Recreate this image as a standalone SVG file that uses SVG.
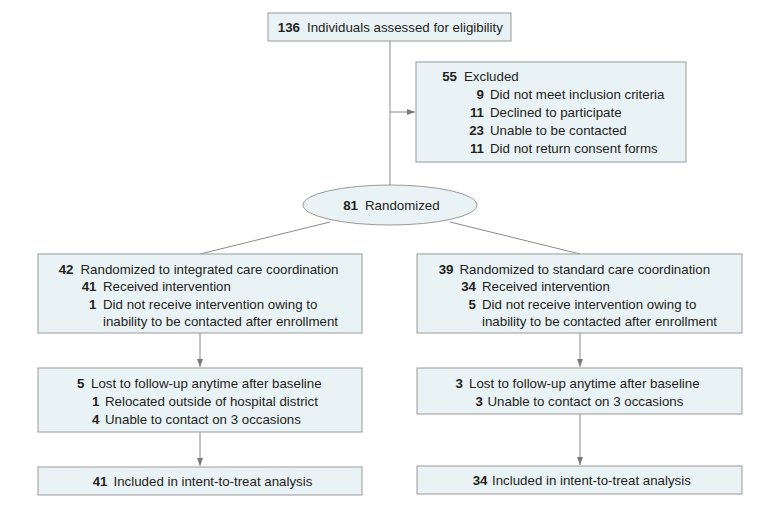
<svg xmlns="http://www.w3.org/2000/svg" width="780" height="508" viewBox="0 0 780 508">
<defs>
<style>
.box{fill:#e9f2f5;stroke:#9a9a9a;stroke-width:1}
text{font-family:"Liberation Sans",Arial,sans-serif;font-size:13.3px;fill:#231f20}
.n{font-weight:bold;text-anchor:end}
.c{text-anchor:middle}
.ln{stroke:#8a8a8a;stroke-width:1;fill:none}
</style>
<marker id="ah" markerWidth="8" markerHeight="6" refX="8" refY="3" orient="auto" markerUnits="userSpaceOnUse">
<path d="M0,0 L8,3 L0,6 Z" fill="#7a7a7a"/>
</marker>
</defs>
<rect width="780" height="508" fill="#ffffff"/>
<g id="connectors">
<line class="ln" x1="390" y1="41" x2="390" y2="185"/>
<line class="ln" x1="390" y1="112" x2="415" y2="112" marker-end="url(#ah)"/>
<line class="ln" x1="330" y1="222" x2="200" y2="254"/>
<line class="ln" x1="450" y1="222" x2="580" y2="254"/>
<line class="ln" x1="200" y1="333" x2="200" y2="367" marker-end="url(#ah)"/>
<line class="ln" x1="580" y1="333" x2="580" y2="367" marker-end="url(#ah)"/>
<line class="ln" x1="200" y1="432" x2="200" y2="466" marker-end="url(#ah)"/>
<line class="ln" x1="580" y1="414" x2="580" y2="465" marker-end="url(#ah)"/>
</g>
<g id="assessed">
<rect class="box" x="268" y="13" width="243" height="28"/>
<text x="300" y="32" class="n">136</text>
<text x="307" y="32">Individuals assessed for eligibility</text>
</g>
<g id="excluded">
<rect class="box" x="416" y="62" width="270" height="100"/>
<text x="457" y="80.5" class="n">55</text><text x="464" y="80.5">Excluded</text>
<text x="484" y="98.5" class="n">9</text><text x="490" y="98.5">Did not meet inclusion criteria</text>
<text x="484" y="116.5" class="n">11</text><text x="490" y="116.5">Declined to participate</text>
<text x="484" y="134.5" class="n">23</text><text x="490" y="134.5">Unable to be contacted</text>
<text x="484" y="152.5" class="n">11</text><text x="490" y="152.5">Did not return consent forms</text>
</g>
<g id="randomized">
<ellipse class="box" cx="390" cy="205" rx="87" ry="20"/>
<text x="358" y="210" class="n">81</text><text x="365" y="210">Randomized</text>
</g>
<g id="integrated">
<rect class="box" x="38" y="254" width="324" height="79"/>
<text x="73.5" y="274" class="n">42</text><text x="80.5" y="274">Randomized to integrated care coordination</text>
<text x="96.5" y="291" class="n">41</text><text x="103" y="291">Received intervention</text>
<text x="96.5" y="308.5" class="n">1</text><text x="103" y="308.5">Did not receive intervention owing to</text>
<text x="103" y="325.5">inability to be contacted after enrollment</text>
</g>
<g id="standard">
<rect class="box" x="417" y="254" width="325" height="79"/>
<text x="453.5" y="274" class="n">39</text><text x="459.5" y="274">Randomized to standard care coordination</text>
<text x="476" y="291" class="n">34</text><text x="482" y="291">Received intervention</text>
<text x="476" y="308.5" class="n">5</text><text x="482" y="308.5">Did not receive intervention owing to</text>
<text x="482" y="325.5">inability to be contacted after enrollment</text>
</g>
<g id="lost-integrated">
<rect class="box" x="38" y="368" width="324" height="64"/>
<text x="84.5" y="388" class="n">5</text><text x="91" y="388">Lost to follow-up anytime after baseline</text>
<text x="99.5" y="405.5" class="n">1</text><text x="105" y="405.5">Relocated outside of hospital district</text>
<text x="99.5" y="423.5" class="n">4</text><text x="105" y="423.5">Unable to contact on 3 occasions</text>
</g>
<g id="lost-standard">
<rect class="box" x="417" y="368" width="325" height="46"/>
<text x="463" y="388" class="n">3</text><text x="469" y="388">Lost to follow-up anytime after baseline</text>
<text x="483" y="406" class="n">3</text><text x="487.5" y="406">Unable to contact on 3 occasions</text>
</g>
<g id="itt-integrated">
<rect class="box" x="38" y="467" width="324" height="28"/>
<text x="107.5" y="485.5" class="n">41</text><text x="113.5" y="485.5">Included in intent-to-treat analysis</text>
</g>
<g id="itt-standard">
<rect class="box" x="417" y="466" width="325" height="28"/>
<text x="487.5" y="485" class="n">34</text><text x="492" y="485">Included in intent-to-treat analysis</text>
</g>
</svg>
